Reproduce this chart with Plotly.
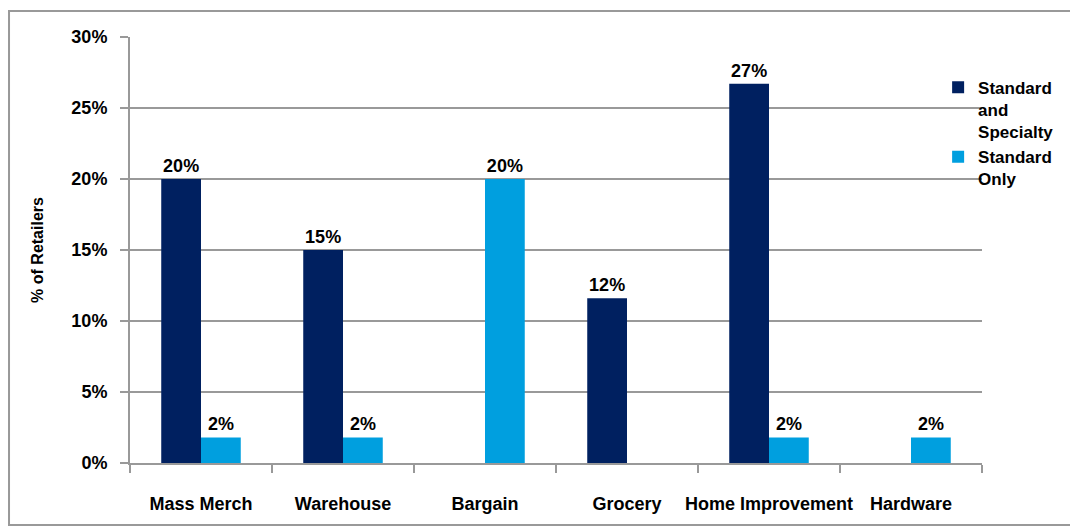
import plotly.graph_objects as go

categories = ["Mass Merch", "Warehouse", "Bargain", "Grocery", "Home Improvement", "Hardware"]
std_specialty = [20.0, 15.0, None, 11.6, 26.7, None]
std_only = [1.8, 1.8, 20.0, None, 1.8, 1.8]
series_names = ["Standard<br>and<br>Specialty", "Standard<br>Only"]
y_ticks = [0, 5, 10, 15, 20, 25, 30]

FONT = "Liberation Sans, Arial"

def labels(vals):
    return ["" if v is None else f"{round(v):.0f}%" for v in vals]

fig = go.Figure()
fig.add_trace(go.Bar(x=categories, y=std_specialty, name=series_names[0],
                     marker=dict(color="#002060", line=dict(width=0)),
                     text=labels(std_specialty), textposition="outside",
                     textfont=dict(family=FONT, size=18, color="black", weight="bold"),
                     cliponaxis=False))
fig.add_trace(go.Bar(x=categories, y=std_only, name=series_names[1],
                     marker=dict(color="#009FDF", line=dict(width=0)),
                     text=labels(std_only), textposition="outside",
                     textfont=dict(family=FONT, size=18, color="black", weight="bold"),
                     cliponaxis=False))

fig.update_layout(
    width=1078, height=529,
    margin=dict(l=122, r=104, t=29, b=74, autoexpand=False),
    paper_bgcolor="white", plot_bgcolor="white",
    barmode="group", bargap=0.44, bargroupgap=0,
    font=dict(family=FONT, size=18, color="black", weight="bold"),
    showlegend=True,
    legend=dict(x=0.9485, y=0.923, xanchor="left", yanchor="top", valign="top",
                bgcolor="rgba(0,0,0,0)", font=dict(family=FONT, size=17, weight="bold"),
                tracegroupgap=0, itemwidth=30),
    xaxis=dict(showline=True, linecolor="#999999", linewidth=2,
               ticks="outside", ticklen=8, tickcolor="#999999", tickwidth=2,
               tickson="boundaries", showgrid=False, ticklabelstandoff=23,
               tickangle=0, automargin=False,
               tickfont=dict(family=FONT, size=18, weight="bold")),
    yaxis=dict(range=[0, 30], tickvals=y_ticks, ticktext=[f"{t}%" for t in y_ticks],
               showline=True, linecolor="#999999", linewidth=2,
               ticks="outside", ticklen=8, tickcolor="#999999", tickwidth=2,
               showgrid=True, gridcolor="#999999", gridwidth=2, zeroline=False,
               automargin=False, ticklabelstandoff=9,
               tickfont=dict(family=FONT, size=18, weight="bold")),
    shapes=[dict(type="rect", xref="paper", yref="paper",
                 x0=-0.142, x1=1.108, y0=-0.1455, y1=1.061,
                 line=dict(color="#999999", width=2), fillcolor="rgba(0,0,0,0)", layer="below")],
)
fig.update_yaxes(title=dict(text="% of Retailers", standoff=24,
                            font=dict(family=FONT, size=16, weight="bold")))

fig.write_html("out.html")
